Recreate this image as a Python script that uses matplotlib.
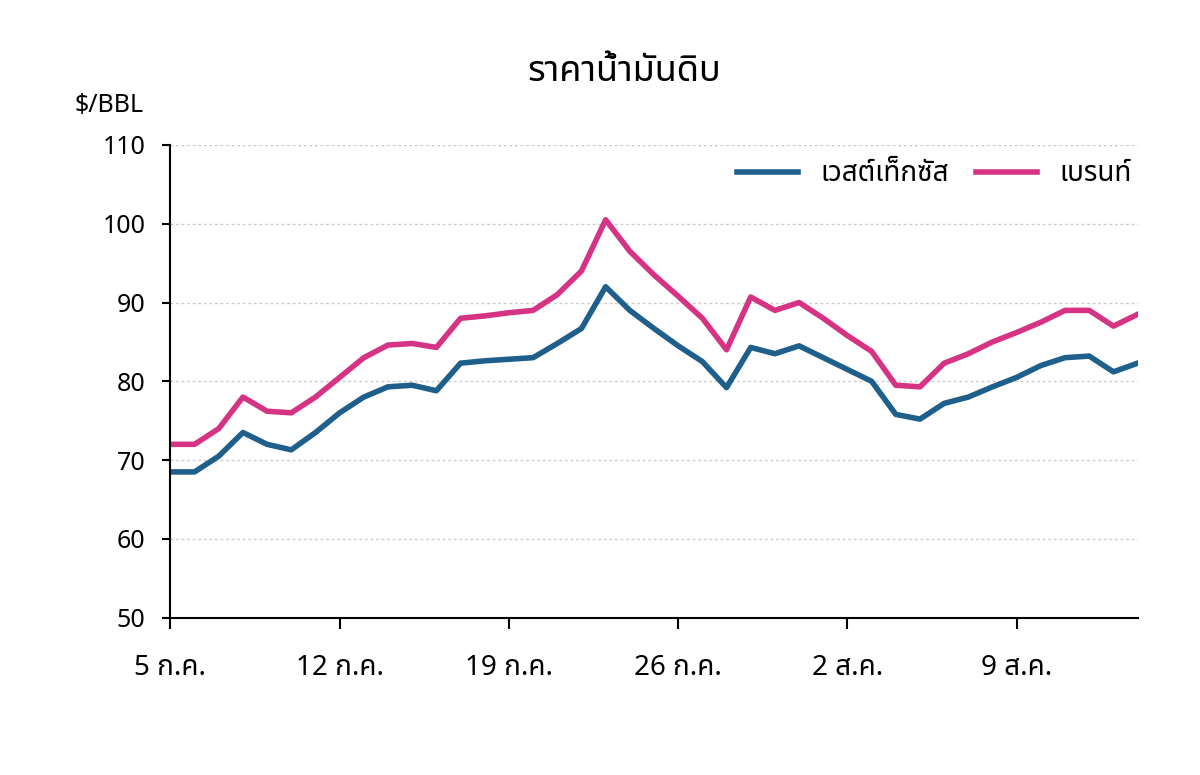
import matplotlib
matplotlib.use("Agg")
import matplotlib.pyplot as plt
import matplotlib.font_manager as fm

fams = ['Noto Sans Thai', 'Loma', 'Garuda', 'Tlwg Typo', 'Noto Sans', 'DejaVu Sans']
avail = {f.name for f in fm.fontManager.ttflist}
fams = [f for f in fams if f in avail] or ['DejaVu Sans']
plt.rcParams['font.family'] = fams

days = list(range(41))
wti = [68.5,68.5,70.5,73.5,72,71.3,73.5,76,78,79.3,79.5,78.8,82.3,82.6,82.8,83,84.8,86.7,92,89,86.7,84.5,82.5,79.2,84.3,83.5,84.5,83,81.5,80,75.8,75.2,77.2,78,79.3,80.5,82,83,83.2,81.2,82.3]
brent = [72,72,74,78,76.2,76,78,80.5,83,84.6,84.8,84.3,88,88.3,88.7,89,91,94,100.5,96.5,93.5,90.8,88,84,90.7,89,90,88,85.8,83.8,79.5,79.3,82.3,83.5,85,86.2,87.5,89,89,87,88.5]
tick_pos = [0, 7, 14, 21, 28, 35]
tick_labels = ['5 ก.ค.', '12 ก.ค.', '19 ก.ค.', '26 ก.ค.', '2 ส.ค.', '9 ส.ค.']
title = 'ราคาน้ำมันดิบ'
unit = '$/BBL'

fig = plt.figure(figsize=(12, 7.75), dpi=100)
ax = fig.add_axes([0.142, 0.203, 0.806, 0.61])
ax.plot(days, wti, color='#1f5f8b', lw=4, label='เวสต์เท็กซัส')
ax.plot(days, brent, color='#d63384', lw=4, label='เบรนท์')
ax.set_xlim(0, 40)
ax.set_ylim(50, 110)
ax.set_yticks(range(50, 111, 10))
ax.set_xticks(tick_pos)
ax.set_xticklabels(tick_labels, fontsize=20, fontweight='bold')
for t in ax.get_yticklabels():
    t.set_fontsize(18); t.set_fontweight('bold')
ax.tick_params(axis='x', length=8, width=1.5, pad=18)
ax.tick_params(axis='y', length=6, width=1.5, pad=12)
ax.yaxis.grid(True, color='#cccccc', ls=(0, (2, 2)), lw=1)
for s in ['top', 'right']:
    ax.spines[s].set_visible(False)
ax.spines['left'].set_linewidth(1.5)
ax.spines['bottom'].set_linewidth(1.5)
ax.legend(loc='upper right', bbox_to_anchor=(1.02, 1.02), ncol=2, frameon=False,
          fontsize=20, handlelength=2.2, columnspacing=1.0,
          prop={'size': 20, 'weight': 'bold'})
fig.text(0.52, 0.895, title, ha='center', fontsize=26, fontweight='bold')
fig.text(0.062, 0.855, unit, fontsize=18, fontweight='bold')
fig.savefig('out.png')
